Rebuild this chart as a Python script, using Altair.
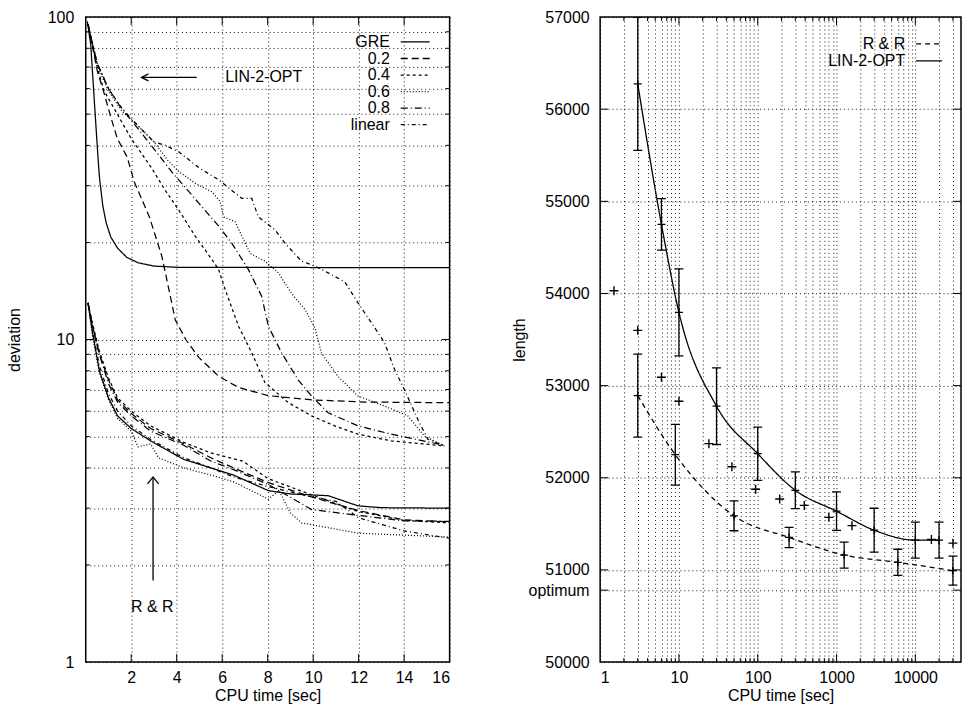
import altair as alt
import pandas as pd

FONT = "Liberation Sans"

# ------------------------------------------------------------------
# Left panel: deviation from optimum (%) over CPU time
# ------------------------------------------------------------------
SERIES = ["GRE", "0.2", "0.4", "0.6", "0.8", "linear"]
DASHES = [[1, 0], [7, 4], [3, 3], [1, 2], [7, 3, 1, 3], [4, 3, 1, 3]]

# LIN-2-OPT runs
lin_gre_t = [0.07, 0.22, 0.37, 0.51, 0.6, 0.75, 0.9, 1.1, 1.4, 1.8, 2.3, 3.0, 4.0, 16.0]
lin_gre_dev = [97, 82, 56, 39.4, 32, 26, 23, 20.8, 19.2, 18.0, 17.3, 16.9, 16.75, 16.7]

lin_02_t = [0.1, 0.51, 0.81, 1.10, 1.39, 1.83, 2.12, 2.8, 3.35, 3.94, 4.4, 4.97,
            5.84, 6.72, 8.03, 9.93, 12.26, 16.0]
lin_02_dev = [95, 68, 58, 49, 42, 36.7, 31, 24, 18.1, 11.5, 10, 8.8,
              7.7, 7.1, 6.7, 6.5, 6.4, 6.37]

lin_04_t = [0.1, 0.5, 0.81, 1.39, 2.0, 2.9, 3.5, 4.09, 4.82, 5.55, 5.84, 6.13,
            6.72, 7.30, 7.88, 8.91, 9.93, 10.95, 11.97, 13.43, 15.77]
lin_04_dev = [95, 70, 59, 50, 42, 34, 29, 25.2, 20.9, 17.7, 16.5, 14.3,
              11.0, 9.1, 7.35, 6.37, 5.8, 5.4, 5.09, 4.85, 4.68]

lin_06_t = [0.1, 0.5, 1.0, 1.6, 2.3, 3.0, 3.6, 4.09, 4.82, 5.55, 5.91, 6.06,
            6.57, 7.01, 7.23, 7.88, 8.47, 9.05, 9.64, 10.07, 10.36, 11.09,
            11.97, 13.14, 14.16, 14.89, 15.77]
lin_06_dev = [95, 71, 59, 51, 46, 41, 36, 33.2, 30.5, 28.7, 26.8, 24.0,
              23.2, 19.9, 18.5, 17.5, 16.1, 13.9, 12.4, 10.9, 9.1, 7.69,
              6.68, 6.22, 5.8, 5.02, 4.68]

lin_08_t = [0.1, 0.5, 1.0, 1.5, 2.2, 3.0, 3.8, 4.97, 5.84, 6.42, 7.15, 7.74,
            8.03, 8.61, 9.34, 9.93, 10.66, 11.97, 13.43, 15.77]
lin_08_dev = [95, 72, 60, 53, 46, 39, 33, 26.5, 22.5, 19.9, 16.5, 13.6,
              11.0, 9.1, 7.5, 6.68, 5.93, 5.4, 5.09, 4.7]

lin_lin_t = [0.1, 0.5, 1.0, 1.6, 2.3, 3.0, 3.5, 4.09, 5.0, 5.84, 6.86, 7.30,
             7.59, 8.32, 8.76, 9.49, 10.07, 10.66, 11.39, 11.97, 12.70, 13.14,
             13.58, 14.01, 14.6, 15.04, 15.77]
lin_lin_dev = [95, 72, 60, 52, 46, 41, 40, 38.2, 34, 31.3, 27.4, 27.4,
               24.0, 21.9, 19.9, 17.5, 16.9, 16.1, 15.1, 13.0, 10.9, 9.77,
               8.07, 7.0, 5.66, 4.91, 4.68]

# R & R runs
rr_gre_t = [0.1, 0.3, 0.6, 1.0, 1.4, 2.0, 2.85, 4.31, 5.5, 6.5, 8.03, 9.0,
            10.66, 11.97, 13.0, 16.0]
rr_gre_dev = [13, 10.5, 8.0, 6.6, 5.8, 5.3, 4.85, 4.25, 4.0, 3.8, 3.4, 3.32,
              3.28, 3.05, 3.01, 3.0]

rr_02_t = [0.1, 0.3, 0.6, 1.0, 1.4, 2.0, 2.85, 4.31, 5.5, 6.5, 8.03, 9.93,
           11.97, 14.0, 16.0]
rr_02_dev = [13, 11, 9.0, 7.5, 6.5, 5.9, 5.3, 4.75, 4.3, 4.0, 3.6, 3.25,
             2.95, 2.76, 2.72]

rr_04_t = [0.1, 0.3, 0.6, 1.0, 1.4, 2.0, 2.85, 4.31, 5.5, 6.9, 8.03, 9.93,
           11.97, 14.0, 16.0]
rr_04_dev = [13, 11.2, 9.2, 7.6, 6.6, 6.0, 5.4, 4.8, 4.45, 4.2, 3.7, 3.3,
             2.93, 2.75, 2.7]

rr_06_t = [0.1, 0.3, 0.6, 1.0, 1.4, 2.0, 2.3, 2.85, 3.2, 4.31, 5.5, 6.5,
           8.03, 8.5, 9.0, 9.49, 11.97, 16.0]
rr_06_dev = [13, 10.2, 7.9, 6.5, 5.7, 5.2, 4.65, 4.75, 4.3, 4.0, 3.8, 3.62,
             3.2, 3.4, 2.9, 2.7, 2.51, 2.44]

rr_08_t = [0.1, 0.3, 0.6, 1.0, 1.4, 2.0, 2.85, 4.31, 5.5, 6.5, 8.03, 9.93,
           11.97, 14.0, 16.0]
rr_08_dev = [13, 11, 9.0, 7.3, 6.4, 5.8, 5.2, 4.7, 4.2, 3.95, 3.55, 2.97,
             2.85, 2.74, 2.73]

rr_lin_t = [0.1, 0.3, 0.6, 1.0, 1.4, 2.0, 2.85, 4.31, 5.5, 6.5, 8.03, 9.93,
            11.0, 12.0, 14.0, 16.0]
rr_lin_dev = [13, 10.6, 8.3, 6.8, 6.0, 5.4, 4.9, 4.3, 4.0, 3.75, 3.5, 3.25,
              3.15, 2.8, 2.55, 2.42]

LEFT_XTICKS = [2, 4, 6, 8, 10, 12, 14, 16]
LEFT_YGRID = [1, 2, 3, 4, 5, 6, 7, 8, 9, 10, 20, 30, 40, 50, 60, 70, 80, 90, 100]
LEFT_YMAJOR = [10]
LEFT_YMINOR = [2, 3, 4, 5, 6, 7, 8, 9, 20, 30, 40, 50, 60, 70, 80, 90]
LEFT_XINNER = [2, 4, 6, 8, 10, 12, 14]

# annotations: labelled arrows
arrow_x = [4.88, 2.96]
arrow_x2 = [2.45, 2.96]
arrow_y = [65, 1.79]
arrow_y2 = [65, 3.75]
note_text = ["LIN-2-OPT", "R & R"]
note_x = [6.13, 2.93]
note_y = [65, 1.48]

# ------------------------------------------------------------------
# Right panel: tour length over CPU time (log scale)
# ------------------------------------------------------------------
RIGHT_SERIES = ["R & R", "LIN-2-OPT"]
RIGHT_DASHES = [[5, 4], [1, 0]]

lin_t = [3, 6, 10, 30, 100, 300, 1000, 3000, 10000, 20000]
lin_len = [56275, 54750, 53795, 52777, 52261, 51864, 51637, 51431, 51323, 51323]
lin_err = [722, 280, 472, 416, 289, 199, 209, 238, 195, 195]

rr_t = [3, 9, 50, 250, 1250, 6000, 30000]
rr_len = [52892, 52250, 51587, 51352, 51161, 51082, 50992]
rr_err = [450, 330, 162, 110, 141, 142, 158]

single_t = [1.5, 3, 6, 10, 24, 47, 94, 190, 390, 800, 1570, 16000, 30000]
single_len = [54030, 53600, 53090, 52830, 52370, 52120, 51875, 51770, 51700,
              51570, 51480, 51330, 51290]

OPTIMUM = 50780
RIGHT_YVALUES = [50000, OPTIMUM, 51000, 52000, 53000, 54000, 55000, 56000, 57000]
RIGHT_YINNER = [OPTIMUM, 51000, 52000, 53000, 54000, 55000, 56000]
RIGHT_XGRID = [m * 10 ** e for e in range(0, 5) for m in range(1, 10) if m * 10 ** e <= 38000]
RIGHT_XMAJOR = [10, 100, 1000, 10000]
RIGHT_XMINOR = [v for v in RIGHT_XGRID if v not in (1, 10, 100, 1000, 10000)]

LW, PH = 365, 647   # left plot area
RW = 362            # right plot area

PLUS = "M -1 0 L 1 0 M 0 -1 L 0 1"
HEAD_LEFT = "M 2 -1 L 0 0 L 2 1"
HEAD_UP = "M -1.6 2 L 0 0 L 1.6 2"

# scales and axes, shared by every layer of a panel
xs_left = alt.Scale(domain=[0, 16], nice=False, zero=False)
ys_left = alt.Scale(type="log", domain=[1, 100], nice=False)
ax_left_x = alt.Axis(values=LEFT_XTICKS, title="CPU time [sec]", labelPadding=8, titlePadding=2)
ax_left_y = alt.Axis(
    values=LEFT_YGRID, title="deviation", labelPadding=12, titlePadding=25, labelOverlap=False,
    labelExpr="(datum.value == 1 || datum.value == 10 || datum.value == 100) ? format(datum.value, 'd') : ''")

xs_right = alt.Scale(type="log", domain=[1, 38000], nice=False)
ys_right = alt.Scale(domain=[50000, 57000], nice=False, zero=False)
ax_right_x = alt.Axis(
    values=RIGHT_XGRID, title="CPU time [sec]", labelPadding=8, titlePadding=2, labelOverlap=False,
    labelExpr="(datum.value == 1 || datum.value == 10 || datum.value == 100 || datum.value == 1000 || datum.value == 10000) ? format(datum.value, 'd') : ''")
ax_right_y = alt.Axis(
    values=RIGHT_YVALUES, title="length", format="d", labelPadding=11, titlePadding=1,
    labelOverlap=False, labelExpr=f"datum.value == {OPTIMUM} ? 'optimum' : datum.label")


def tick_layers(values, scale, axis, channel, length, extent, field="v"):
    """Inward tick marks on both opposite borders for the given axis values."""
    df = pd.DataFrame({field: values})
    base = alt.Chart(df).mark_rule(color="black", strokeWidth=1)
    if channel == "y":
        enc = alt.Y(f"{field}:Q", scale=scale, axis=axis)
        return [
            base.encode(y=enc, x=alt.value(0), x2=alt.value(length)),
            base.encode(y=enc, x=alt.value(extent), x2=alt.value(extent - length)),
        ]
    enc = alt.X(f"{field}:Q", scale=scale, axis=axis)
    return [
        base.encode(x=enc, y=alt.value(0), y2=alt.value(length)),
        base.encode(x=enc, y=alt.value(extent), y2=alt.value(extent - length)),
    ]


def legend_layers(names, dashes, text_x, line_x0, line_x1, y0, y1):
    df = pd.DataFrame({"name": names, "row": list(range(len(names)))})
    ly = alt.Y("row:O", scale=alt.Scale(type="point", range=[y0, y1], padding=0), axis=None)
    txt = alt.Chart(df).mark_text(align="right", baseline="middle", font=FONT,
                                  fontSize=16, color="black").encode(
        y=ly, x=alt.value(text_x), text="name:N")
    smp = alt.Chart(df).mark_rule(color="black", strokeWidth=1.3).encode(
        y=ly, x=alt.value(line_x0), x2=alt.value(line_x1),
        strokeDash=alt.StrokeDash("name:N", scale=alt.Scale(domain=names, range=dashes),
                                  legend=None))
    return [txt, smp]


# ---------------- left panel ----------------
curves = [
    ("LIN-2-OPT", "GRE", lin_gre_t, lin_gre_dev),
    ("LIN-2-OPT", "0.2", lin_02_t, lin_02_dev),
    ("LIN-2-OPT", "0.4", lin_04_t, lin_04_dev),
    ("LIN-2-OPT", "0.6", lin_06_t, lin_06_dev),
    ("LIN-2-OPT", "0.8", lin_08_t, lin_08_dev),
    ("LIN-2-OPT", "linear", lin_lin_t, lin_lin_dev),
    ("R & R", "GRE", rr_gre_t, rr_gre_dev),
    ("R & R", "0.2", rr_02_t, rr_02_dev),
    ("R & R", "0.4", rr_04_t, rr_04_dev),
    ("R & R", "0.6", rr_06_t, rr_06_dev),
    ("R & R", "0.8", rr_08_t, rr_08_dev),
    ("R & R", "linear", rr_lin_t, rr_lin_dev),
]
rows = []
for method, series, ts, vs in curves:
    for i, (t, v) in enumerate(zip(ts, vs)):
        rows.append({"curve": f"{method} {series}", "series": series, "t": t, "dev": v, "i": i})
dev_df = pd.DataFrame(rows)


def lx(field):
    return alt.X(f"{field}:Q", scale=xs_left, axis=ax_left_x)


def ly(field):
    return alt.Y(f"{field}:Q", scale=ys_left, axis=ax_left_y)


dev_lines = alt.Chart(dev_df).mark_line(color="black", strokeWidth=1.25, clip=True).encode(
    x=lx("t"), y=ly("dev"),
    detail="curve:N",
    order="i:Q",
    strokeDash=alt.StrokeDash("series:N", scale=alt.Scale(domain=SERIES, range=DASHES),
                              legend=None),
)

arrow_df = pd.DataFrame({"ax": arrow_x, "ax2": arrow_x2, "ay": arrow_y, "ay2": arrow_y2})
arrows = alt.Chart(arrow_df).mark_rule(color="black", strokeWidth=1.3).encode(
    x=lx("ax"), x2="ax2:Q", y=ly("ay"), y2="ay2:Q")
head_left = alt.Chart(arrow_df.iloc[[0]]).mark_point(
    shape=HEAD_LEFT, size=49, filled=False, color="black", strokeWidth=1.3, opacity=1).encode(
    x=lx("ax2"), y=ly("ay2"))
head_up = alt.Chart(arrow_df.iloc[[1]]).mark_point(
    shape=HEAD_UP, size=49, filled=False, color="black", strokeWidth=1.3, opacity=1).encode(
    x=lx("ax2"), y=ly("ay2"))

note_df = pd.DataFrame({"label": note_text, "nx": note_x, "ny": note_y})
note_left = alt.Chart(note_df.iloc[[0]]).mark_text(
    align="left", baseline="middle", font=FONT, fontSize=16, color="black").encode(
    x=lx("nx"), y=ly("ny"), text="label:N")
note_center = alt.Chart(note_df.iloc[[1]]).mark_text(
    align="center", baseline="middle", font=FONT, fontSize=16, color="black").encode(
    x=lx("nx"), y=ly("ny"), text="label:N")

left_data = alt.layer(
    dev_lines,
    *tick_layers(LEFT_YMAJOR, ys_left, ax_left_y, "y", 8, LW),
    *tick_layers(LEFT_YMINOR, ys_left, ax_left_y, "y", 4, LW),
    *tick_layers(LEFT_XINNER, xs_left, ax_left_x, "x", 8, PH),
    arrows, head_left, head_up, note_left, note_center,
)
left = alt.layer(
    left_data,
    *legend_layers(SERIES, DASHES, 305, 316, 345, 25, 108),
).resolve_scale(y="independent").properties(width=LW, height=PH)

# ---------------- right panel ----------------
err_df = pd.concat([
    pd.DataFrame({"method": "LIN-2-OPT", "t": lin_t, "len": lin_len,
                  "lo": [m - e for m, e in zip(lin_len, lin_err)],
                  "hi": [m + e for m, e in zip(lin_len, lin_err)]}),
    pd.DataFrame({"method": "R & R", "t": rr_t, "len": rr_len,
                  "lo": [m - e for m, e in zip(rr_len, rr_err)],
                  "hi": [m + e for m, e in zip(rr_len, rr_err)]}),
], ignore_index=True)


def rx(field):
    return alt.X(f"{field}:Q", scale=xs_right, axis=ax_right_x)


def ry(field):
    return alt.Y(f"{field}:Q", scale=ys_right, axis=ax_right_y)


len_lines = alt.Chart(err_df).mark_line(color="black", strokeWidth=1.3, interpolate="monotone",
                                        clip=True).encode(
    x=rx("t"), y=ry("len"),
    detail="method:N",
    strokeDash=alt.StrokeDash("method:N", scale=alt.Scale(domain=RIGHT_SERIES, range=RIGHT_DASHES),
                              legend=None),
)
bars = alt.Chart(err_df).mark_rule(color="black", strokeWidth=1.3, clip=True).encode(
    x=rx("t"), y=ry("lo"), y2="hi:Q")
caps_lo = alt.Chart(err_df).mark_point(shape="stroke", size=81, color="black", strokeWidth=1.3,
                                       filled=False, opacity=1, clip=True).encode(
    x=rx("t"), y=ry("lo"))
caps_hi = alt.Chart(err_df).mark_point(shape="stroke", size=81, color="black", strokeWidth=1.3,
                                       filled=False, opacity=1, clip=True).encode(
    x=rx("t"), y=ry("hi"))
centers = alt.Chart(err_df).mark_point(shape=PLUS, size=64, color="black", strokeWidth=1.3,
                                       filled=False, opacity=1, clip=True).encode(
    x=rx("t"), y=ry("len"))

single_df = pd.DataFrame({"t": single_t, "len": single_len})
singles = alt.Chart(single_df).mark_point(shape=PLUS, size=81, color="black", strokeWidth=1.4,
                                          filled=False, opacity=1).encode(
    x=rx("t"), y=ry("len"))

right_data = alt.layer(
    len_lines, bars, caps_lo, caps_hi, centers, singles,
    *tick_layers(RIGHT_YINNER, ys_right, ax_right_y, "y", 8, RW),
    *tick_layers(RIGHT_XMAJOR, xs_right, ax_right_x, "x", 8, PH),
    *tick_layers(RIGHT_XMINOR, xs_right, ax_right_x, "x", 4, PH),
)
right = alt.layer(
    right_data,
    *legend_layers(RIGHT_SERIES, RIGHT_DASHES, 306, 317, 343, 27, 44),
).resolve_scale(y="independent").properties(width=RW, height=PH)

chart = alt.hconcat(left, right, spacing=58).resolve_scale(
    strokeDash="independent",
).properties(
    padding={"left": 5, "top": 7, "right": 0, "bottom": 0},
    background="white",
).configure_view(
    stroke="black", strokeWidth=1.5,
).configure_axis(
    labelFont=FONT, titleFont=FONT, labelFontSize=16, titleFontSize=16,
    titleFontWeight="normal", labelColor="black", titleColor="black",
    domain=False, ticks=False, tickSize=0,
    grid=True, gridColor="black", gridDash=[1, 3], gridWidth=1, gridOpacity=0.9,
).configure_text(font=FONT)

chart.save("out.html", embed_options={"renderer": "svg", "actions": False})
